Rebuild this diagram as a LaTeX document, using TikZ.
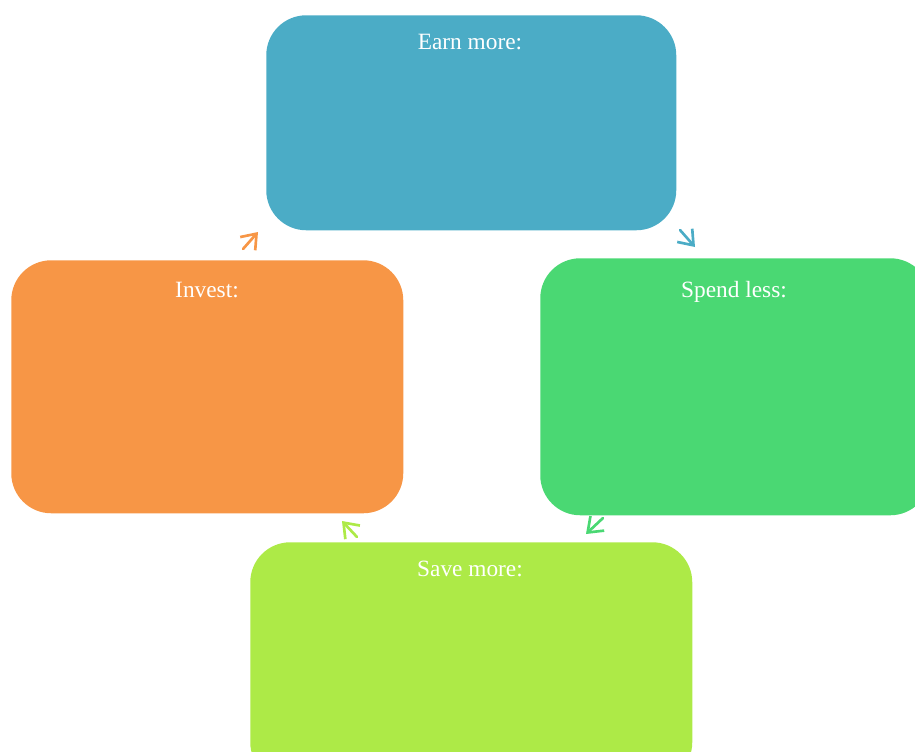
\documentclass[tikz,border=0pt]{standalone}
\usepackage{fontspec}
\setmainfont{Liberation Serif}
\usetikzlibrary{arrows.meta}
\definecolor{cblue}{HTML}{4BACC6}
\definecolor{corange}{HTML}{F79646}
\definecolor{cgreen}{HTML}{4AD873}
\definecolor{clime}{HTML}{ADEA47}
\tikzset{
  box/.style={draw=none, rounded corners=30, inner sep=0pt, anchor=north west},
  ttl/.style={text=white, anchor=base, font=\fontsize{17.5}{20}\selectfont, inner sep=0pt},
  sketch/.style={line width=2, line cap=round, -{Straight Barb[length=10,width=15,line width=2]}}
}
\begin{document}
\begin{tikzpicture}[x=0.75pt,y=-0.75pt]
\useasboundingbox (0,0) rectangle (915,751);
\clip (0,0) rectangle (915,751);
\node[box, fill=cblue, minimum width=410*0.75pt, minimum height=215*0.75pt] (earn) at (266,15) {};
\node[box, fill=corange, minimum width=392*0.75pt, minimum height=253*0.75pt] (invest) at (11,260) {};
\node[box, fill=cgreen, minimum width=390*0.75pt, minimum height=257*0.75pt] (spend) at (540,258) {};
\node[box, fill=clime, minimum width=442*0.75pt, minimum height=240*0.75pt] (save) at (250,542) {};
\node[ttl] (t1) at (470,49) {Earn more:};
\node[ttl] (t2) at (207,297) {Invest:};
\node[ttl] (t3) at (734,297) {Spend less:};
\node[ttl] (t4) at (470,576) {Save more:};
\coordinate (a1s) at (243,249); \coordinate (a1e) at (258,232);
\coordinate (a2s) at (680,230); \coordinate (a2e) at (695,247);
\coordinate (a3s) at (603,518); \coordinate (a3e) at (586,534);
\coordinate (a4s) at (357,537); \coordinate (a4e) at (342,521);
\draw[sketch, draw=corange] (a1s) -- (a1e);
\draw[sketch, draw=cblue] (a2s) -- (a2e);
\draw[sketch, draw=cgreen] (a3s) -- (a3e);
\draw[sketch, draw=clime] (a4s) -- (a4e);
\end{tikzpicture}
\end{document}
